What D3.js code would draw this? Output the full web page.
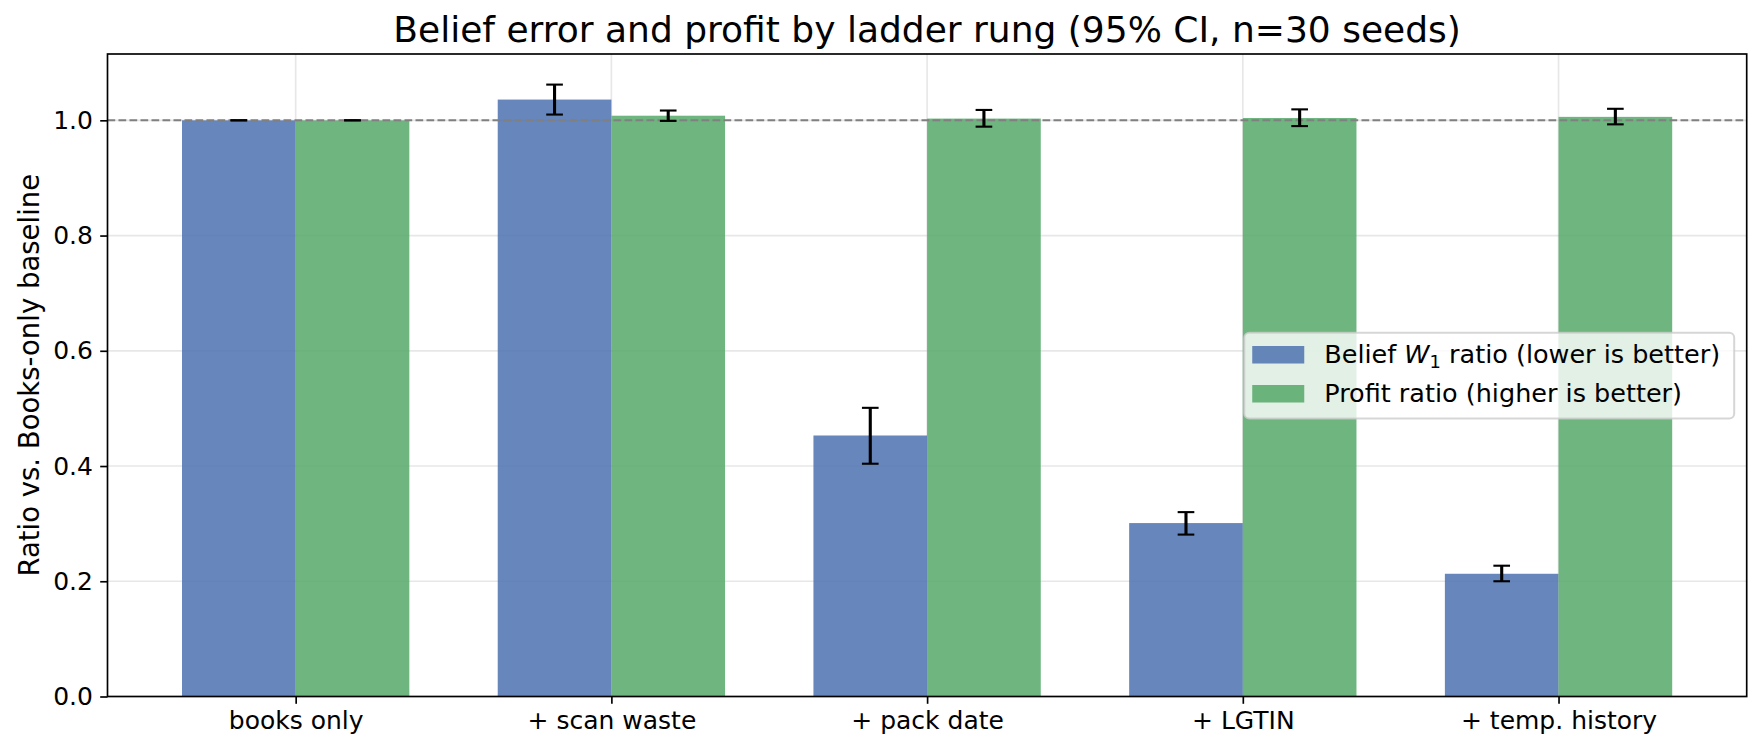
<!DOCTYPE html>
<html><head><meta charset="utf-8">
<script src="https://cdn.jsdelivr.net/npm/d3@7"></script>
<style>
body{margin:0;background:#fff}
text{font-family:"DejaVu Sans",sans-serif;fill:#000}
</style>
</head><body>
<svg id="c" width="1761" height="753"></svg>
<script>
// ---- data ----
const categories = ["books only", "+ scan waste", "+ pack date", "+ LGTIN", "+ temp. history"];
const beliefMean = [1.000, 1.036, 0.453, 0.301, 0.213];
const beliefLo   = [1.000, 1.010, 0.404, 0.281, 0.200];
const beliefHi   = [1.000, 1.062, 0.501, 0.320, 0.227];
const profitMean = [1.000, 1.008, 1.003, 1.004, 1.006];
const profitLo   = [1.000, 0.999, 0.989, 0.990, 0.993];
const profitHi   = [1.000, 1.017, 1.018, 1.019, 1.020];
const yTicks = [0, 0.2, 0.4, 0.6, 0.8, 1.0];
const baselineValue = 1.0;
const titleText = "Belief error and profit by ladder rung (95% CI, n=30 seeds)";
const yLabelText = "Ratio vs. Books-only baseline";

// ---- layout ----
const W = 1761, H = 753;
const L = 107.5, R = 1746.7, T = 54, B = 696.5;
const barW = 0.36;
const xMin = -barW - 0.05 * (categories.length - 1 + 2 * barW);
const xMax = categories.length - 1 + barW + 0.05 * (categories.length - 1 + 2 * barW);
const yMax = d3.max(beliefHi.concat(profitHi)) * 1.05;

const x = d3.scaleLinear().domain([xMin, xMax]).range([L, R]);
const y = d3.scaleLinear().domain([0, yMax]).range([B, T]);

const series = [
  {name: "belief", color: "#4C72B0", mean: beliefMean, lo: beliefLo, hi: beliefHi, offset: -barW},
  {name: "profit", color: "#55A868", mean: profitMean, lo: profitLo, hi: profitHi, offset: 0}
];

const svg = d3.select("#c");
svg.append("rect").attr("width", W).attr("height", H).attr("fill", "#fff");

// grid
const grid = svg.append("g");
grid.selectAll("line.h").data(yTicks).join("line")
  .attr("x1", L).attr("x2", R).attr("y1", d => y(d)).attr("y2", d => y(d))
  .attr("stroke", "#b0b0b0").attr("stroke-opacity", 0.3).attr("stroke-width", 1.67);
grid.selectAll("line.v").data(categories.map((c, i) => i)).join("line")
  .attr("y1", T).attr("y2", B).attr("x1", d => x(d)).attr("x2", d => x(d))
  .attr("stroke", "#b0b0b0").attr("stroke-opacity", 0.3).attr("stroke-width", 1.67);

// bars
series.forEach(s => {
  svg.append("g").selectAll("rect").data(s.mean).join("rect")
    .attr("x", (d, i) => x(i + s.offset))
    .attr("width", (d, i) => x(i + s.offset + barW) - x(i + s.offset))
    .attr("y", d => y(d))
    .attr("height", d => y(0) - y(d))
    .attr("fill", s.color).attr("fill-opacity", 0.85);
});

// baseline dashed line
svg.append("line")
  .attr("x1", L).attr("x2", R).attr("y1", y(baselineValue)).attr("y2", y(baselineValue))
  .attr("stroke", "#808080").attr("stroke-width", 2.08).attr("stroke-dasharray", "7.7,3.3");

// error bars
const cap = 8.33;
series.forEach(s => {
  const g = svg.append("g");
  s.mean.forEach((m, i) => {
    const cx = x(i + s.offset + barW / 2);
    g.append("line").attr("x1", cx).attr("x2", cx).attr("y1", y(s.lo[i])).attr("y2", y(s.hi[i]))
      .attr("stroke", "#000").attr("stroke-width", 3.1);
    [s.lo[i], s.hi[i]].forEach(v => {
      g.append("line").attr("x1", cx - cap).attr("x2", cx + cap).attr("y1", y(v)).attr("y2", y(v))
        .attr("stroke", "#000").attr("stroke-width", 2.1);
    });
  });
});

// axes
const yAxis = d3.axisLeft(y).tickValues(yTicks).tickFormat(d3.format(".1f")).tickSize(7.3).tickPadding(7.3);
const gy = svg.append("g").attr("transform", `translate(${L},0)`).call(yAxis);
gy.select(".domain").remove();
gy.selectAll(".tick line").attr("stroke", "#000").attr("stroke-width", 1.67);
gy.selectAll(".tick text").attr("font-size", 25).attr("font-family", "DejaVu Sans").attr("fill", "#000");

const xAxis = d3.axisBottom(x).tickValues(categories.map((c, i) => i)).tickFormat(i => categories[i]).tickSize(7.3).tickPadding(7.3);
const gx = svg.append("g").attr("transform", `translate(0,${B})`).call(xAxis);
gx.select(".domain").remove();
gx.selectAll(".tick line").attr("stroke", "#000").attr("stroke-width", 1.67);
gx.selectAll(".tick text").attr("font-size", 25).attr("font-family", "DejaVu Sans").attr("fill", "#000");

// spines
svg.append("rect").attr("x", L).attr("y", T).attr("width", R - L).attr("height", B - T)
  .attr("fill", "none").attr("stroke", "#000").attr("stroke-width", 1.67);

// title
svg.append("text").attr("x", (L + R) / 2).attr("y", T - 12.5)
  .attr("text-anchor", "middle").attr("font-size", 36).text(titleText);

// y label
svg.append("text").attr("transform", `translate(38.5,${(T + B) / 2}) rotate(-90)`)
  .attr("text-anchor", "middle").attr("font-size", 27.5).text(yLabelText);

// legend
const fs = 25.5;
const leg = svg.append("g");
const frame = leg.append("rect");
const rowCenters = [(T + B) / 2 - 20.5, (T + B) / 2 + 18.5];
const labels = [];
const t1 = leg.append("text").attr("font-size", fs);
t1.append("tspan").text("Belief ");
t1.append("tspan").attr("font-style", "italic").text("W");
t1.append("tspan").attr("font-size", fs * 0.7).attr("dy", 5).text("1");
t1.append("tspan").attr("dy", -5).text(" ratio (lower is better)");
labels.push(t1);
const t2 = leg.append("text").attr("font-size", fs).text("Profit ratio (higher is better)");
labels.push(t2);
const maxW = d3.max(labels, t => t.node().getComputedTextLength());
const boxW = maxW + 94;
const boxR = R - 12.5;
const boxL = boxR - boxW;
const boxT = (T + B) / 2 - 42.5, boxH = 85.7;
frame.attr("x", boxL).attr("y", boxT).attr("width", boxW).attr("height", boxH)
  .attr("rx", 5).attr("fill", "#fff").attr("fill-opacity", 0.8)
  .attr("stroke", "#cccccc").attr("stroke-opacity", 0.8).attr("stroke-width", 2);
series.forEach((s, k) => {
  leg.append("rect").attr("x", boxL + 8).attr("y", rowCenters[k] - 8.75)
    .attr("width", 52).attr("height", 17.5).attr("fill", s.color).attr("fill-opacity", 0.85);
  labels[k].attr("x", boxL + 80).attr("y", rowCenters[k] + 8.7);
});
</script>
</body></html>
